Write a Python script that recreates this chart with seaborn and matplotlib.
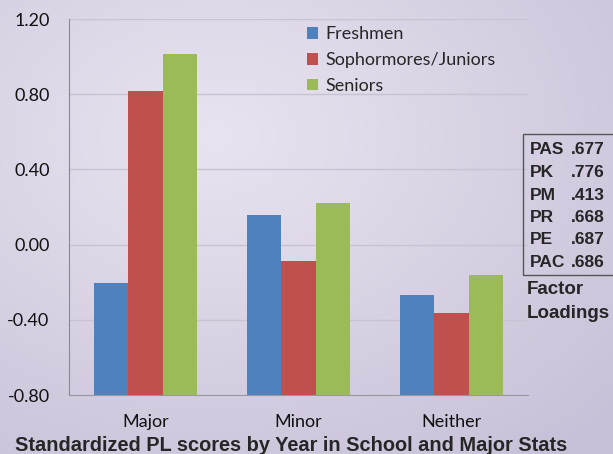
import numpy as np
import pandas as pd
import matplotlib
matplotlib.use("Agg")
import matplotlib.pyplot as plt
from matplotlib.patches import Rectangle
import seaborn as sns

# values
categories = ["Major", "Minor", "Neither"]
groups = ["Freshmen", "Sophormores/Juniors", "Seniors"]
freshmen = [-0.204, 0.157, -0.269]
soph_juniors = [0.817, -0.087, -0.365]
seniors = [1.014, 0.221, -0.160]
colors = ["#4f81bd", "#c0504d", "#9bbb59"]

loading_names = ["PAS", "PK", "PM", "PR", "PE", "PAC"]
loading_values = [".677", ".776", ".413", ".668", ".687", ".686"]

y_floor = -0.8  # bars rise from the bottom of the axis, as in Excel

df = pd.DataFrame({
    "category": categories * 3,
    "group": [g for g in groups for _ in categories],
    "score": freshmen + soph_juniors + seniors,
})

sns.set_style("white")
plt.rcParams["font.family"] = ["Lato", "DejaVu Sans"]

W, H = 613, 454
fig = plt.figure(figsize=(W / 100, H / 100), dpi=100)

# lavender gradient background
bg = fig.add_axes([0, 0, 1, 1], zorder=-10)
yy, xx = np.mgrid[0:1:200j, 0:1:300j]
d = np.sqrt(((xx - 0.35) / 0.9) ** 2 + ((yy - 0.3) / 0.9) ** 2)
d = np.clip(d, 0, 1)
c0 = np.array([233, 228, 240]) / 255
c1 = np.array([200, 192, 216]) / 255
img = c0[None, None, :] * (1 - d[..., None]) + c1[None, None, :] * d[..., None]
bg.imshow(img, aspect="auto", extent=[0, 1, 0, 1], origin="upper")
bg.axis("off")

ax = fig.add_axes([69 / W, (H - 395) / H, 459 / W, 376 / H])
ax.patch.set_alpha(0)
sns.barplot(data=df, x="category", y="score", hue="group", hue_order=groups,
            palette=colors, width=0.667, saturation=1, edgecolor="none",
            ax=ax, zorder=3)

# anchor every bar at the axis floor instead of zero
for cont in ax.containers:
    for bar in cont:
        top = bar.get_y() + bar.get_height()
        bar.set_y(y_floor)
        bar.set_height(top - y_floor)

ax.set_ylim(-0.8, 1.2)
ax.set_xlim(-0.5, 2.5)
yt = np.arange(-0.8, 1.21, 0.4)
ax.set_yticks(yt)
ax.set_yticklabels([f"{v:.2f}" for v in yt])
ax.yaxis.grid(True, color="#c8c2d2", lw=1)
ax.set_axisbelow(True)
ax.tick_params(axis="y", length=7, width=1, color="#b0aabb", labelsize=13, pad=7)
ax.tick_params(axis="x", which="major", length=0, labelsize=13, pad=14)
ax.set_xticks([0.5, 1.5, 2.5], minor=True)
ax.tick_params(axis="x", which="minor", length=5, color="#9a96a0", direction="out")
for lbl in ax.get_xticklabels() + ax.get_yticklabels():
    lbl.set_color("#111111")
ax.set_xlabel("")
ax.set_ylabel("")
for s in ["top", "right"]:
    ax.spines[s].set_visible(False)
ax.spines["left"].set_color("#8a8a8a")
ax.spines["bottom"].set_color("#9a96a0")

ax.legend(title=None, frameon=False, loc="upper left",
          bbox_to_anchor=(300 / W, 1 - 19 / H), bbox_transform=fig.transFigure,
          fontsize=13, handlelength=0.6, handleheight=0.6, handletextpad=0.4,
          labelspacing=0.55, borderaxespad=0)

# factor loadings box
fig.patches.append(Rectangle((523 / W, (H - 275) / H), 100 / W, 141 / H,
                             transform=fig.transFigure, fill=False,
                             edgecolor="#555555", lw=1))
for i, (n, v) in enumerate(zip(loading_names, loading_values)):
    yc = 1 - (150 + i * 22.5) / H
    fig.text(530 / W, yc, n, family="Liberation Sans", weight="bold",
             fontsize=12.5, va="center", ha="left")
    fig.text(571 / W, yc, v, family="Liberation Sans", weight="bold",
             fontsize=12.5, va="center", ha="left")
fig.text(527 / W, 1 - 289 / H, "Factor", family="Liberation Sans",
         weight="bold", fontsize=13.5, va="center")
fig.text(527 / W, 1 - 313 / H, "Loadings", family="Liberation Sans",
         weight="bold", fontsize=13.5, va="center")

fig.text(15 / W, 3 / H, "Standardized PL scores by Year in School and Major Stats",
         family="Liberation Sans", weight="bold", fontsize=14.4, va="baseline")

fig.savefig("out.png", dpi=100)
